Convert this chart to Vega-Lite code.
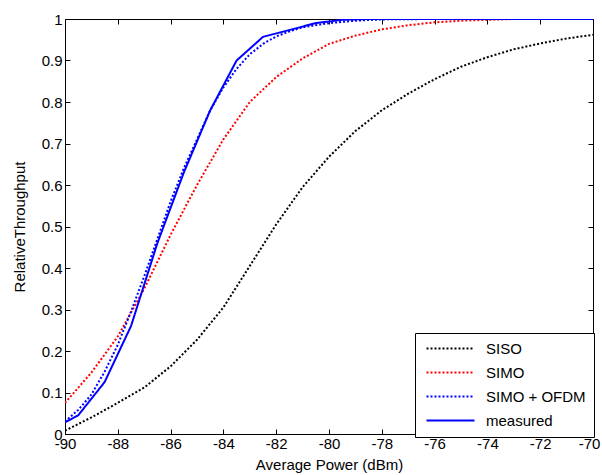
{
  "$schema": "https://vega.github.io/schema/vega-lite/v6.json",
  "width": 528,
  "height": 415,
  "autosize": {"type": "none"},
  "padding": {"left": 65, "top": 19, "right": 9, "bottom": 41},
  "background": "white",
  "config": {
    "font": "Liberation Sans",
    "view": {"stroke": "black", "strokeWidth": 1},
    "axis": {"domain": false, "grid": false, "tickColor": "black", "labelColor": "black", "titleColor": "black", "labelFontSize": 15, "titleFontSize": 15, "titleFontWeight": "normal", "labelFlush": false}
  },
  "data": {"values": [
    {"x": -90, "y": 0.008, "s": "SISO"}, {"x": -89, "y": 0.04, "s": "SISO"}, {"x": -88, "y": 0.075, "s": "SISO"}, {"x": -87, "y": 0.112, "s": "SISO"}, {"x": -86, "y": 0.163, "s": "SISO"}, {"x": -85, "y": 0.227, "s": "SISO"}, {"x": -84, "y": 0.305, "s": "SISO"}, {"x": -83, "y": 0.405, "s": "SISO"}, {"x": -82, "y": 0.505, "s": "SISO"}, {"x": -81, "y": 0.595, "s": "SISO"}, {"x": -80, "y": 0.668, "s": "SISO"}, {"x": -79, "y": 0.73, "s": "SISO"}, {"x": -78, "y": 0.78, "s": "SISO"}, {"x": -77, "y": 0.82, "s": "SISO"}, {"x": -76, "y": 0.855, "s": "SISO"}, {"x": -75, "y": 0.885, "s": "SISO"}, {"x": -74, "y": 0.908, "s": "SISO"}, {"x": -73, "y": 0.927, "s": "SISO"}, {"x": -72, "y": 0.941, "s": "SISO"}, {"x": -71, "y": 0.953, "s": "SISO"}, {"x": -70, "y": 0.962, "s": "SISO"},
    {"x": -90, "y": 0.075, "s": "SIMO"}, {"x": -89, "y": 0.148, "s": "SIMO"}, {"x": -88, "y": 0.235, "s": "SIMO"}, {"x": -87, "y": 0.35, "s": "SIMO"}, {"x": -86, "y": 0.48, "s": "SIMO"}, {"x": -85, "y": 0.6, "s": "SIMO"}, {"x": -84, "y": 0.71, "s": "SIMO"}, {"x": -83, "y": 0.8, "s": "SIMO"}, {"x": -82, "y": 0.86, "s": "SIMO"}, {"x": -81, "y": 0.905, "s": "SIMO"}, {"x": -80, "y": 0.94, "s": "SIMO"}, {"x": -79, "y": 0.96, "s": "SIMO"}, {"x": -78, "y": 0.975, "s": "SIMO"}, {"x": -77, "y": 0.985, "s": "SIMO"}, {"x": -76, "y": 0.992, "s": "SIMO"}, {"x": -75, "y": 0.996, "s": "SIMO"}, {"x": -74, "y": 0.998, "s": "SIMO"}, {"x": -73, "y": 1.0, "s": "SIMO"}, {"x": -70, "y": 1.0, "s": "SIMO"},
    {"x": -90, "y": 0.03, "s": "SIMO + OFDM"}, {"x": -89.5, "y": 0.058, "s": "SIMO + OFDM"}, {"x": -89, "y": 0.095, "s": "SIMO + OFDM"}, {"x": -88.5, "y": 0.15, "s": "SIMO + OFDM"}, {"x": -88, "y": 0.215, "s": "SIMO + OFDM"}, {"x": -87.5, "y": 0.295, "s": "SIMO + OFDM"}, {"x": -87, "y": 0.38, "s": "SIMO + OFDM"}, {"x": -86.5, "y": 0.47, "s": "SIMO + OFDM"}, {"x": -86, "y": 0.56, "s": "SIMO + OFDM"}, {"x": -85.5, "y": 0.64, "s": "SIMO + OFDM"}, {"x": -85, "y": 0.71, "s": "SIMO + OFDM"}, {"x": -84.5, "y": 0.78, "s": "SIMO + OFDM"}, {"x": -84, "y": 0.835, "s": "SIMO + OFDM"}, {"x": -83.5, "y": 0.88, "s": "SIMO + OFDM"}, {"x": -83, "y": 0.915, "s": "SIMO + OFDM"}, {"x": -82.5, "y": 0.94, "s": "SIMO + OFDM"}, {"x": -82, "y": 0.958, "s": "SIMO + OFDM"}, {"x": -81.5, "y": 0.97, "s": "SIMO + OFDM"}, {"x": -81, "y": 0.98, "s": "SIMO + OFDM"}, {"x": -80, "y": 0.99, "s": "SIMO + OFDM"}, {"x": -79, "y": 0.996, "s": "SIMO + OFDM"}, {"x": -78, "y": 0.999, "s": "SIMO + OFDM"}, {"x": -76, "y": 1.0, "s": "SIMO + OFDM"}, {"x": -70, "y": 1.0, "s": "SIMO + OFDM"},
    {"x": -90, "y": 0.028, "s": "measured"}, {"x": -89.5, "y": 0.045, "s": "measured"}, {"x": -88.5, "y": 0.125, "s": "measured"}, {"x": -87.5, "y": 0.26, "s": "measured"}, {"x": -86.5, "y": 0.46, "s": "measured"}, {"x": -85.5, "y": 0.63, "s": "measured"}, {"x": -84.5, "y": 0.78, "s": "measured"}, {"x": -83.5, "y": 0.9, "s": "measured"}, {"x": -82.5, "y": 0.957, "s": "measured"}, {"x": -80.5, "y": 0.99, "s": "measured"}, {"x": -79.5, "y": 0.998, "s": "measured"}, {"x": -78.5, "y": 1.0, "s": "measured"}, {"x": -70, "y": 1.0, "s": "measured"}
  ]},
  "layer": [
    {
      "mark": {"type": "line", "strokeWidth": 2, "clip": true},
      "encoding": {
        "x": {"field": "x", "type": "quantitative", "scale": {"domain": [-90, -70], "nice": false},
          "axis": {"title": "Average Power (dBm)", "values": [-90, -88, -86, -84, -82, -80, -78, -76, -74, -72, -70], "labelExpr": "datum.value + ''", "labelOffset": {"condition": {"test": "datum.value == -70", "value": -4}, "value": 0}, "tickSize": -5, "labelPadding": 7, "titlePadding": 6}},
        "y": {"field": "y", "type": "quantitative", "scale": {"domain": [0, 1], "nice": false},
          "axis": {"title": "RelativeThroughput", "values": [0, 0.1, 0.2, 0.3, 0.4, 0.5, 0.6, 0.7, 0.8, 0.9, 1], "format": "~g", "tickSize": -5, "labelPadding": 8, "titlePadding": 14}},
        "color": {"field": "s", "type": "nominal", "sort": ["SISO", "SIMO", "SIMO + OFDM", "measured"],
          "scale": {"domain": ["SISO", "SIMO", "SIMO + OFDM", "measured"], "range": ["#000000", "#ff0000", "#0000ff", "#0000ff"]},
          "legend": {"title": null, "orient": "none", "legendX": 350, "legendY": 314, "fillColor": "white", "strokeColor": "black", "padding": 8, "rowPadding": 8, "labelFontSize": 15, "labelColor": "black", "symbolType": "M-1,0H11", "symbolSize": 64, "symbolStrokeWidth": 2, "labelOffset": 48, "cornerRadius": 0}},
        "strokeDash": {"field": "s", "type": "nominal", "sort": ["SISO", "SIMO", "SIMO + OFDM", "measured"],
          "scale": {"domain": ["SISO", "SIMO", "SIMO + OFDM", "measured"], "range": [[2, 2], [2, 2], [2, 2], [1, 0]]},
          "legend": {"title": null, "orient": "none", "legendX": 350, "legendY": 314}}
      }
    },
    {
      "mark": {"type": "rule", "opacity": 0},
      "encoding": {
        "x": {"field": "x", "type": "quantitative", "scale": {"domain": [-90, -70], "nice": false},
          "axis": {"orient": "top", "title": null, "labels": false, "values": [-90, -88, -86, -84, -82, -80, -78, -76, -74, -72, -70], "tickSize": -5}},
        "y": {"field": "y", "type": "quantitative", "scale": {"domain": [0, 1], "nice": false},
          "axis": {"orient": "right", "title": null, "labels": false, "values": [0, 0.1, 0.2, 0.3, 0.4, 0.5, 0.6, 0.7, 0.8, 0.9, 1], "tickSize": -5}}
      }
    }
  ],
  "resolve": {"axis": {"x": "independent", "y": "independent"}}
}
